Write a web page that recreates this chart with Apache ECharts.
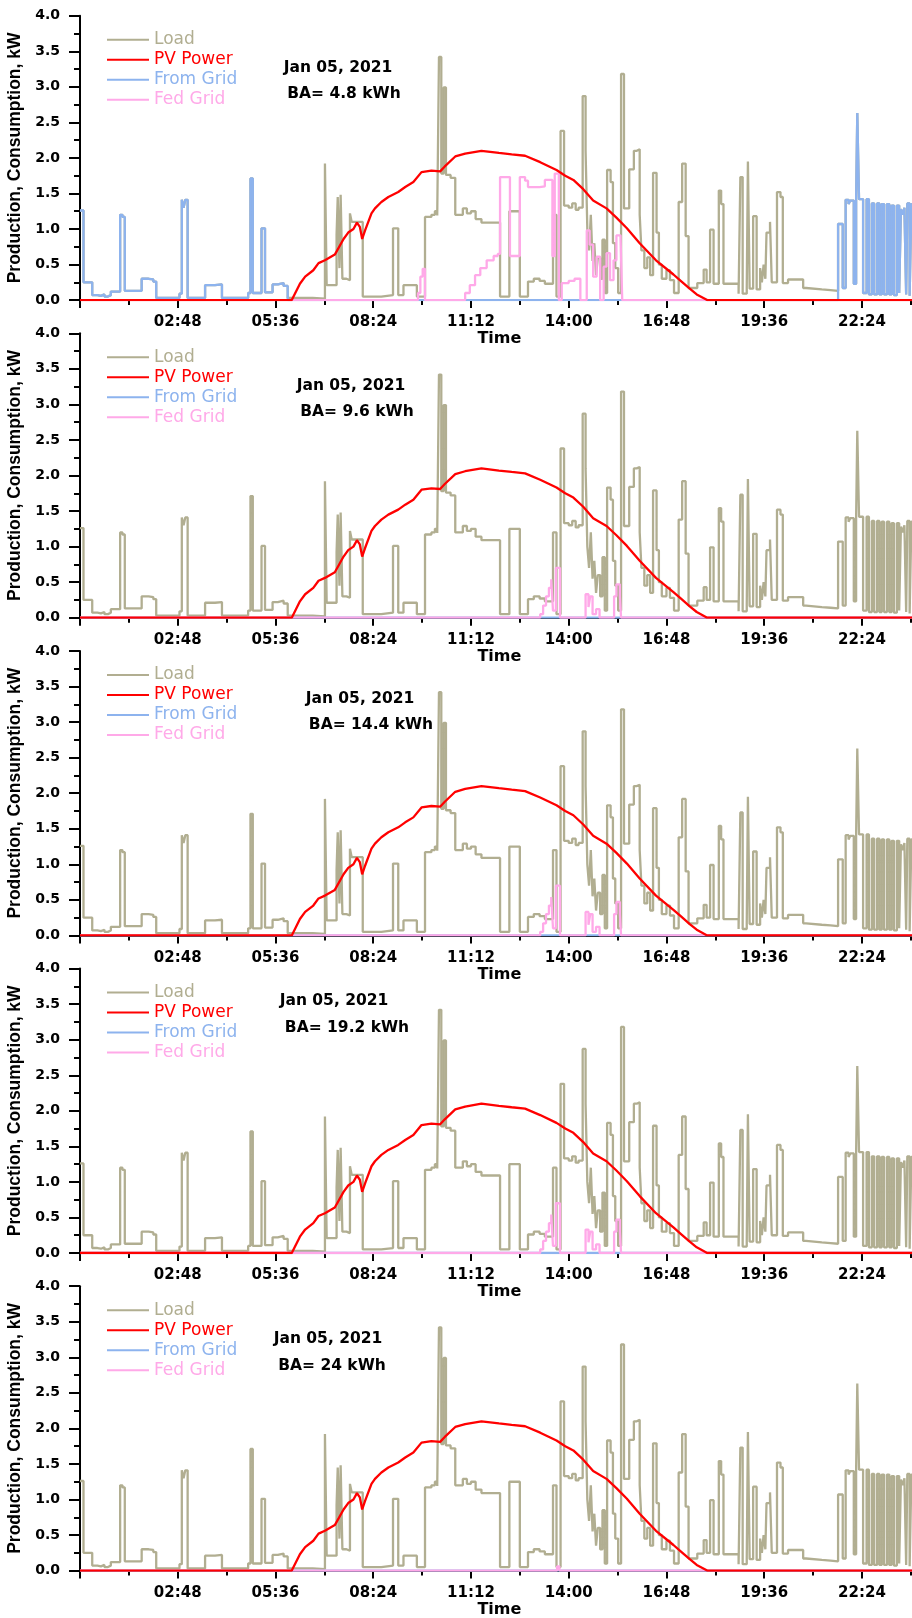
<!DOCTYPE html>
<html><head><meta charset="utf-8">
<script src="https://cdn.jsdelivr.net/npm/echarts@6/dist/echarts.min.js"></script>
<style>html,body{margin:0;padding:0;background:#fff}#chart{width:912px;height:1618px}</style>
</head><body><div id="chart"></div>
<script>
// ---------- DATA (time in minutes since midnight, power in kW) ----------
const loadNight1 = [[0,1.26],[6,0.25],[21,0.07],[30,0.06],[36,0.08],[42,0.05],[48,0.07],[53,0.12],[69,1.2],[73,1.17],[77,0.13],[106,0.30],[118,0.29],[126,0.26],[131,0.03],[171,0.09],[175,1.41],[178,1.3],[181,1.41],[185,0.03],[215,0.21],[232,0.22],[244,0.03],[289,0.1],[293,1.71],[297,0.1],[312,1.01],[318,0.11],[331,0.22],[340,0.24],[350,0.2]];
const loadDay = [[357,0.03],[400,0.02],[421,1.92],[424,0.21],[441,0.92],[443,1.45],[446,0.45],[448,1.48],[451,0.3],[458,0.28],[464,1.22],[467,1.1],[486,0.05],[518,0.07],[538,1.01],[547,0.07],[556,0.21],[579,0.05],[593,1.17],[604,1.2],[610,1.25],[614,1.19],[617,3.42],[621,1.78],[625,2.99],[629,1.76],[637,1.72],[645,1.2],[658,1.29],[665,1.22],[672,1.25],[680,1.14],[690,1.09],[722,0.05],[738,1.25],[756,0.05],[770,0.26],[780,0.3],[790,0.27],[799,0.23],[813,1.2],[819,0.05],[826,2.38],[832,1.33],[840,1.3],[846,1.36],[852,1.27],[857,1.3],[864,2.87],[869,2.1],[872,1.0],[875,0.7],[878,1.2],[881,0.55],[884,0.8],[887,0.35],[890,0.6],[894,0.3],[898,0.85],[902,0.1],[906,1.83],[912,1.66],[916,0.8],[920,0.45],[925,0.1],[930,3.18],[935,1.29],[944,1.84],[952,2.1],[957,2.12],[962,1.2],[965,0.7],[970,0.45],[975,0.6],[980,0.35],[985,1.79],[991,0.95],[995,0.5],[1000,0.3],[1008,0.42],[1014,0.28],[1021,0.1],[1029,1.38],[1035,1.92],[1041,0.9],[1046,0.17],[1061,0.24],[1072,0.43],[1077,0.25],[1083,0.99],[1089,0.23],[1098,1.54],[1102,1.35],[1106,0.23],[1132,0.09],[1135,1.73],[1139,0.09],[1146,0.16],[1148,1.95],[1151,0.16],[1157,1.18],[1163,0.15],[1169,0.45],[1172,0.25],[1175,0.5],[1178,0.3],[1180,0.95],[1186,1.1],[1189,0.25],[1198,1.52],[1204,1.45],[1208,0.24],[1217,0.29],[1243,0.17],[1248,0.15],[1275,0.14],[1290,0.13]];
const loadNight2 = [[1303,1.07],[1311,0.17],[1316,1.41],[1321,1.35],[1324,1.4],[1330,0.23],[1334,1.41],[1336,2.63],[1339,1.42],[1346,0.1],[1352,1.42],[1356,0.08],[1361,1.36],[1365,0.08],[1370,1.36],[1374,0.08],[1378,1.35],[1382,0.08],[1387,1.35],[1391,0.08],[1395,1.33],[1399,0.07],[1404,1.33],[1408,0.1],[1411,1.28],[1414,1.2],[1417,1.3],[1420,0.08],[1422,1.36],[1426,0.06],[1429,1.35],[1433,0.06],[1436,1.34],[1440,1.34]];
const gridOffDay = [[357,0]];
const zeroLine = [[0,0],[1440,0]];
const pvPower = [[0,0],[364,0],[378,0.23],[387,0.33],[401,0.42],[410,0.52],[421,0.56],[438,0.64],[453,0.86],[461,0.95],[470,1.0],[476,1.09],[481,1.03],[485,0.86],[490,0.98],[501,1.22],[507,1.29],[518,1.38],[530,1.45],[547,1.52],[559,1.59],[573,1.66],[587,1.80],[604,1.82],[619,1.81],[627,1.88],[645,2.02],[662,2.06],[690,2.10],[720,2.07],[742,2.05],[765,2.03],[791,1.94],[819,1.83],[834,1.75],[848,1.69],[865,1.56],[882,1.40],[905,1.29],[922,1.16],[940,1.01],[962,0.80],[990,0.56],[1011,0.42],[1020,0.36],[1034,0.26],[1048,0.16],[1060,0.08],[1078,0],[1440,0]];
const fedGrid1 = [[0,0],[581,0.1],[585,0.33],[589,0.44],[593,0],[662,0.1],[670,0.21],[679,0.35],[688,0.45],[699,0.56],[711,0.62],[718,0.65],[722,1.73],[739,0.62],[756,1.73],[765,1.68],[770,1.59],[790,1.6],[799,1.69],[812,0.62],[816,1.78],[823,0],[828,0.24],[840,0.27],[850,0.3],[860,0],[871,0.98],[876,0.78],[882,0.33],[888,0.61],[894,0],[900,0.47],[905,0.66],[911,0.28],[917,0.56],[922,0.91],[929,0.91],[932,0],[1440,0]];
const fedGridMid = [[0,0],[791,0.05],[796,0.17],[801,0.3],[806,0.42],[810,0.54],[813,0.1],[818,0.7],[825,0],[869,0.33],[874,0.15],[877,0.3],[881,0.05],[887,0.12],[893,0],[918,0.3],[922,0.47],[928,0.3],[930,0],[1440,0]];
const fedGrid5 = [[0,0],[820,0.06],[824,0],[1440,0]];

const tickLabels = ['', '02:48', '05:36', '08:24', '11:12', '14:00', '16:48', '19:36', '22:24', ''];
const tickStep = 168;
const dateText = 'Jan 05, 2021';
const baValues = ['4.8', '9.6', '14.4', '19.2', '24'];
const seriesNames = ['Load', 'PV Power', 'From Grid', 'Fed Grid'];

// ---------- derived per-panel tables ----------
const loadAll = loadNight1.concat(loadDay, loadNight2);
const fromGrid1 = loadNight1.concat(gridOffDay, loadNight2);
const panelFromGrid = [fromGrid1, zeroLine, zeroLine, zeroLine, zeroLine];
const panelFedGrid = [fedGrid1, fedGridMid, fedGridMid, fedGridMid, fedGrid5];

// ---------- layout / style ----------
const COLORS = {Load: '#b1ae91', 'PV Power': '#ff0000', 'From Grid': '#8db3ee', 'Fed Grid': '#ffa9e8'};
const panelTops = [15.7, 333.3, 651, 968.6, 1286.2];
const plotHeight = 284.4;
const annoPos = [[338,67.7,344,94],[351,385.7,357,411.7],[360,699,371,725],[334,1001,347,1028],[328,1339,332,1365.7]];
const FONT = 'DejaVu Sans';

const grids = [], xAxes = [], yAxes = [], series = [], legends = [], graphics = [];
panelTops.forEach((top, i) => {
  grids.push({left: 80, top: top, width: 1512 * 0.5818, height: plotHeight, containLabel: false, outerBoundsMode: 'none'});
  xAxes.push({
    type: 'value', gridIndex: i, min: 0, max: 1512, interval: tickStep,
    axisLine: {show: true, onZero: false, lineStyle: {color: '#000', width: 2}},
    axisTick: {show: true, length: 8, lineStyle: {color: '#000', width: 2}},
    minorTick: {show: true, splitNumber: 2, length: 5, lineStyle: {color: '#000', width: 2}},
    splitLine: {show: false}, minorSplitLine: {show: false},
    axisLabel: {
      color: '#000', fontFamily: FONT, fontWeight: 'bold', fontSize: 15, margin: 15,
      formatter: v => { const k = Math.round(v / tickStep); return (Math.abs(v - k * tickStep) < 1e-6 && tickLabels[k]) || ''; }
    },
    name: 'Time', nameLocation: 'middle', nameGap: 31,
    nameTextStyle: {color: '#000', fontFamily: FONT, fontWeight: 'bold', fontSize: 16, lineHeight: 16, padding: [0, 41, 0, 0]}
  });
  yAxes.push({
    type: 'value', gridIndex: i, min: 0, max: 4, interval: 0.5,
    axisLine: {show: true, lineStyle: {color: '#000', width: 2}},
    axisTick: {show: true, length: 11, lineStyle: {color: '#000', width: 2}},
    minorTick: {show: true, splitNumber: 2, length: 6, lineStyle: {color: '#000', width: 2}},
    splitLine: {show: false}, minorSplitLine: {show: false},
    axisLabel: {color: '#000', fontFamily: FONT, fontWeight: 'bold', fontSize: 14, margin: 20, formatter: v => v.toFixed(1)},
    name: 'Production, Consumption, kW', nameLocation: 'middle', nameGap: 52,
    nameTextStyle: {color: '#000', fontFamily: 'Liberation Sans', fontWeight: 'bold', fontSize: 17.5}
  });
  const mk = (name, data, step) => ({
    name: name, type: 'line', xAxisIndex: i, yAxisIndex: i, data: data,
    step: step ? 'end' : false, symbol: 'none', showSymbol: false, clip: true,
    lineStyle: {color: COLORS[name], width: 2.3}, itemStyle: {color: COLORS[name]},
    emphasis: {disabled: true}, silent: true
  });
  series.push(mk('Load', loadAll, true));
  series.push(mk('From Grid', panelFromGrid[i], true));
  series.push(mk('Fed Grid', panelFedGrid[i], true));
  series.push(mk('PV Power', pvPower, false));
  legends.push({
    orient: 'vertical', left: 107, top: top + 14, itemWidth: 42, itemHeight: 2, itemGap: 0,
    icon: 'rect', selectedMode: false, padding: 0,
    textStyle: {fontFamily: FONT, fontSize: 17, lineHeight: 20},
    data: seriesNames.map(n => ({name: n, textStyle: {color: COLORS[n]}}))
  });
  const p = annoPos[i];
  graphics.push({type: 'text', x: p[0], y: p[1], style: {text: dateText, font: 'bold 15.5px "DejaVu Sans"', fill: '#000', align: 'center', verticalAlign: 'middle', textAlign: 'center', textVerticalAlign: 'middle'}});
  graphics.push({type: 'text', x: p[2], y: p[3], style: {text: 'BA= ' + baValues[i] + ' kWh', font: 'bold 15.5px "DejaVu Sans"', fill: '#000', align: 'center', verticalAlign: 'middle', textAlign: 'center', textVerticalAlign: 'middle'}});
});

const chart = echarts.init(document.getElementById('chart'), null, {renderer: 'canvas', width: 912, height: 1618});
chart.setOption({
  backgroundColor: '#fff', animation: false,
  grid: grids, xAxis: xAxes, yAxis: yAxes, series: series, legend: legends,
  graphic: graphics, tooltip: {show: false}
});
</script></body></html>
